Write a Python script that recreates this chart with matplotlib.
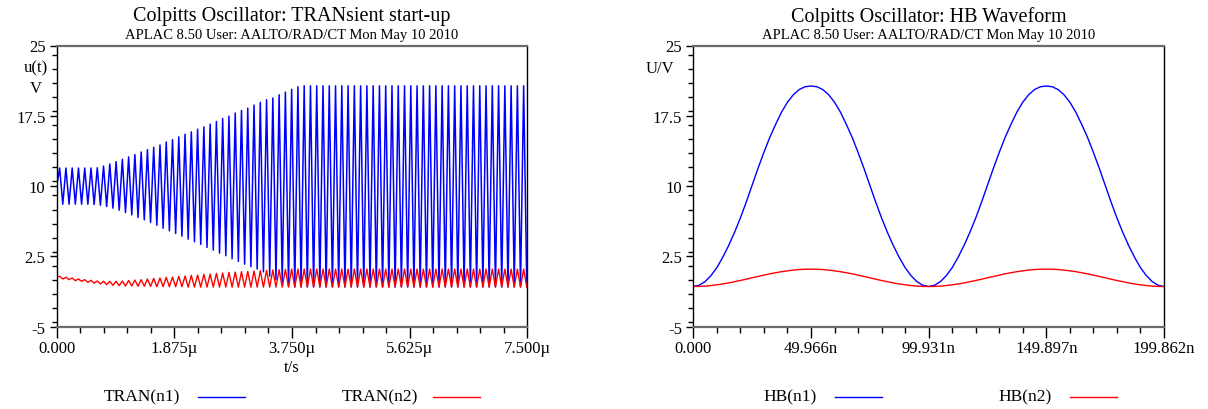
import numpy as np
import matplotlib
matplotlib.use('Agg')
import matplotlib.pyplot as plt
from matplotlib.lines import Line2D
from matplotlib.ticker import MultipleLocator

plt.rcParams['font.family'] = ['Liberation Serif', 'DejaVu Serif']

W, H = 1208, 410

# --- transient start-up: per-cycle maxima / minima (V)
PERIOD_US = 0.099931
FIRST_PEAK_US = 0.047
TRAN_START = [10.0, 0.30]   # n1, n2 at t = 0

TRAN_N1_PEAKS = [11.93] * 6 + [
    11.96, 12.14, 12.36, 12.61, 12.86, 13.11, 13.36, 13.64, 13.89, 14.14,
    14.39, 14.71, 14.96, 15.25, 15.54, 15.79, 16.07, 16.32, 16.61, 16.89,
    17.21, 17.46, 17.79, 18.07, 18.32, 18.64, 18.93, 19.21, 19.40, 19.75,
    20.03, 20.32, 20.60] + [20.70] * 36
TRAN_N1_TROUGHS = [8.07] * 5 + [
    8.03, 7.96, 7.82, 7.64, 7.43, 7.18, 6.93, 6.65, 6.40, 6.12,
    5.83, 5.51, 5.23, 4.95, 4.66, 4.34, 4.06, 3.78, 3.46, 3.17,
    2.85, 2.57, 2.25, 1.97, 1.68, 1.40, 1.15, 0.85, 0.40, 0.02,
    -0.34, -0.62] + [-0.75] * 38
TRAN_N2_PEAKS = [
    0.37, 0.27, 0.20, 0.09, 0.02, -0.05, -0.12, -0.16, -0.16, -0.16,
    -0.12, -0.07, -0.02, 0.02, 0.09, 0.16, 0.20, 0.27, 0.30, 0.37,
    0.41, 0.48, 0.51, 0.59, 0.62, 0.69, 0.73, 0.80, 0.83, 0.87,
    0.90, 0.94, 0.98, 1.01, 1.05, 1.08, 1.12] + [1.15] * 38
TRAN_N2_TROUGHS = [
    0.09, 0.02, -0.09, -0.16, -0.27, -0.35, -0.44, -0.51, -0.59, -0.62,
    -0.66, -0.66, -0.69, -0.69, -0.69, -0.73] + [-0.73] * 4 + [-0.78] * 55

# --- harmonic balance: half period (trough -> peak), samples every period/40
HB_PERIOD_NS = 99.931
HB_N1_HALF = [-0.71, -0.58, -0.19, 0.45, 1.30, 2.40, 3.65, 5.05, 6.60, 8.30,
              10.10, 11.90, 13.60, 15.20, 16.60, 17.90, 18.95, 19.75, 20.30,
              20.60, 20.68]
HB_N2_HALF = [-0.71, -0.70, -0.67, -0.61, -0.53, -0.44, -0.33, -0.20, -0.07,
              0.07, 0.22, 0.36, 0.50, 0.64, 0.76, 0.87, 0.96, 1.04, 1.10,
              1.13, 1.14]

Y_TICKS = [-5, 2.5, 10, 17.5, 25]
Y_LABELS = ['-5', '2.5', '10', '17.5', '25']
TRAN_XTICKS = [0, 1.875, 3.75, 5.625, 7.5]
TRAN_XLABELS = ['0.000', '1.875\u00b5', '3.750\u00b5', '5.625\u00b5', '7.500\u00b5']
HB_XTICKS = [0, HB_PERIOD_NS / 2, HB_PERIOD_NS, 1.5 * HB_PERIOD_NS, 2 * HB_PERIOD_NS]
HB_XLABELS = ['0.000', '49.966n', '99.931n', '149.897n', '199.862n']

BLUE = '#0000ff'
RED = '#ff0000'
SUBTITLE = 'APLAC 8.50 User: AALTO/RAD/CT Mon May 10 2010'
FS = 12


def zigzag(start, peaks, troughs):
    k = np.arange(len(peaks))
    tp = FIRST_PEAK_US + k * PERIOD_US
    tt = tp + PERIOD_US / 2
    t = np.concatenate([[0.0], np.column_stack([tp, tt]).ravel()])
    v = np.concatenate([[start], np.column_stack([peaks, troughs]).ravel()])
    return t, v


def two_periods(half):
    one = list(half) + list(half[-2::-1])
    two = one + one[1:]
    return np.linspace(0, 2 * HB_PERIOD_NS, len(two)), np.array(two)


def fx(x):
    return x / W


def fy(y):
    return 1 - y / H


def style(ax, xticks, xlabels, xminor):
    ax.set_ylim(-5, 25)
    ax.set_yticks(Y_TICKS)
    ax.set_yticklabels(Y_LABELS)
    ax.yaxis.set_minor_locator(MultipleLocator(1.5))
    ax.set_xlim(xticks[0], xticks[-1])
    ax.set_xticks(xticks)
    ax.set_xticklabels(xlabels)
    ax.xaxis.set_minor_locator(MultipleLocator(xminor))
    ax.tick_params(axis='both', which='both', direction='out', width=1,
                   color='black', labelsize=FS)
    ax.tick_params(axis='x', which='major', length=8, pad=1.5)
    ax.tick_params(axis='x', which='minor', length=4)
    ax.tick_params(axis='y', which='major', length=5, pad=3)
    ax.tick_params(axis='y', which='minor', length=3.5)
    for s in ('top', 'bottom'):
        ax.spines[s].set_color('#6a6a6a')
        ax.spines[s].set_linewidth(1.6)
    for s in ('left', 'right'):
        ax.spines[s].set_color('black')
        ax.spines[s].set_linewidth(1.0)


def legend_entry(fig, text_right, line_x0, label, color):
    fig.text(fx(text_right), fy(397.5), label, ha='right', va='center',
             fontsize=12.5)
    fig.add_artist(Line2D([fx(line_x0), fx(line_x0 + 47)], [fy(397.5)] * 2,
                          color=color, lw=1.0, transform=fig.transFigure))


fig = plt.figure(figsize=(W / 100, H / 100), dpi=100)
ax_l = fig.add_axes([fx(56.7), fy(327.7), 470.6 / W, 281.2 / H])
ax_r = fig.add_axes([fx(693.3), fy(327.7), 470.7 / W, 281.2 / H])

# left: transient
t1, v1 = zigzag(TRAN_START[0], TRAN_N1_PEAKS, TRAN_N1_TROUGHS)
t2, v2 = zigzag(TRAN_START[1], TRAN_N2_PEAKS, TRAN_N2_TROUGHS)
ax_l.plot(t1, v1, color=BLUE, lw=1.1)
ax_l.plot(t2, v2, color=RED, lw=1.0)
style(ax_l, TRAN_XTICKS, TRAN_XLABELS, 0.375)

# right: HB waveform
h1t, h1 = two_periods(HB_N1_HALF)
h2t, h2 = two_periods(HB_N2_HALF)
ax_r.plot(h1t, h1, color=BLUE, lw=1.0)
ax_r.plot(h2t, h2, color=RED, lw=1.0)
style(ax_r, HB_XTICKS, HB_XLABELS, HB_PERIOD_NS / 10)

# titles
fig.text(fx(292), fy(17), 'Colpitts Oscillator: TRANsient start-up',
         ha='center', va='center', fontsize=14.5)
fig.text(fx(292), fy(36), SUBTITLE, ha='center', va='center', fontsize=10.5)
fig.text(fx(929), fy(17), 'Colpitts Oscillator: HB Waveform',
         ha='center', va='center', fontsize=14.5)
fig.text(fx(929), fy(36), SUBTITLE, ha='center', va='center', fontsize=10.5)

# axis labels
fig.text(fx(36), fy(68), 'u(t)', ha='center', va='center', fontsize=FS)
fig.text(fx(36), fy(89), 'V', ha='center', va='center', fontsize=FS)
fig.text(fx(660), fy(69), 'U/V', ha='center', va='center', fontsize=FS)
fig.text(fx(292), fy(368), 't/s', ha='center', va='center', fontsize=FS)

# legends
legend_entry(fig, 180, 198, 'TRAN(n1)', BLUE)
legend_entry(fig, 418, 433, 'TRAN(n2)', RED)
legend_entry(fig, 817, 835, 'HB(n1)', BLUE)
legend_entry(fig, 1052, 1070, 'HB(n2)', RED)

fig.savefig('out.png', dpi=100)
